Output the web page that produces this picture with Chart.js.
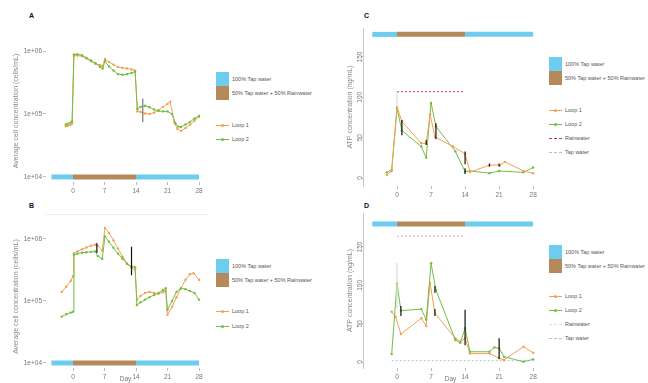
<!DOCTYPE html>
<html>
<head>
<meta charset="utf-8">
<script src="https://cdn.jsdelivr.net/npm/chart.js@4.4.0/dist/chart.umd.min.js"></script>
<style>
  body { margin: 0; width: 648px; height: 383px; overflow: hidden; position: relative; background: #fff;
         font-family: "Liberation Sans", Arial, sans-serif; }
  .box { position: absolute; }
  .tag { position: absolute; font-size: 7px; font-weight: bold; color: #111; }
  .sw { position: absolute; width: 13px; height: 14px; }
  .lt { position: absolute; font-size: 5.5px; line-height: 6px; color: #555; white-space: nowrap; }
  .ln { position: absolute; width: 13px; height: 0; }
  .dot { position: absolute; width: 3px; height: 3px; border-radius: 2px; }
  .sep { position: absolute; left: 45px; top: 214px; width: 163px; height: 1px; background: #f0f0f0; }
</style>
</head>
<body>
<div class="tag" style="left:29px;top:12px">A</div>
<div class="tag" style="left:29px;top:202px">B</div>
<div class="tag" style="left:364px;top:12px">C</div>
<div class="tag" style="left:364px;top:202px">D</div>
<div class="sep"></div>

<div class="box" style="left:0;top:30px;width:210px;height:170px"><canvas id="chartA"></canvas></div>
<div class="box" style="left:0;top:215px;width:210px;height:168px"><canvas id="chartB"></canvas></div>
<div class="box" style="left:320px;top:20px;width:225px;height:180px"><canvas id="chartC"></canvas></div>
<div class="box" style="left:320px;top:205px;width:225px;height:178px"><canvas id="chartD"></canvas></div>

<script>
// ---------- ticks ----------
const dayTicks = [0, 7, 14, 21, 28];
const logTicks = [1e4, 1e5, 1e6];
const logTickLabels = ["1e+04", "1e+05", "1e+06"];
const atpTicks = [0, 50, 100, 150];

// ---------- labels ----------
const phaseLabels = ["100% Tap water", "50% Tap water + 50% Rainwater"];
const loopLabels = ["Loop 1", "Loop 2"];
const refLabels = ["Rainwater", "Tap water"];

// ---------- water phases (days) ----------
const phaseTapBeforeAB = [-4.8, 0];
const phaseTapBeforeCD = [-5.1, 0];
const phaseMix = [0, 14];
const phaseTapAfter = [14, 28];

// ---------- A: cell concentration ----------
const aDays1 = [-1.6, -1.2, -0.6, -0.2, 0.2, 1, 2, 3, 4, 5, 6, 6.6, 7.1, 8, 9, 10, 11, 12, 13, 13.8,
                14.3, 15, 16, 17, 18, 19, 20, 21, 21.6, 22.5, 23.2, 24, 25, 26, 27, 28];
const aLoop1 = [6.4e4, 6.5e4, 6.7e4, 7.0e4, 8.4e5, 8.5e5, 8.3e5, 7.6e5, 6.9e5, 6.3e5, 6.0e5, 5.8e5, 7.5e5,
                6.7e5, 6.1e5, 5.6e5, 5.4e5, 5.3e5, 5.1e5, 4.9e5,
                1.1e5, 1.08e5, 1.02e5, 1.0e5, 1.05e5, 1.15e5, 1.3e5, 1.45e5, 1.57e5, 7.4e4, 5.8e4,
                5.4e4, 6.0e4, 6.8e4, 7.8e4, 9.0e4];
const aDays2 = [-1.6, -1.2, -0.6, -0.2, 0.2, 1, 2, 3, 4, 5, 6, 6.6, 7.1, 8, 9, 10, 11, 12, 13, 13.8,
                14.3, 15, 16, 17, 18, 19, 20, 21, 22, 22.8, 23.4, 24, 25, 26, 27, 28];
const aLoop2 = [6.8e4, 7.0e4, 7.3e4, 7.6e4, 8.8e5, 8.9e5, 8.6e5, 7.8e5, 7.1e5, 6.4e5, 5.6e5, 5.3e5, 6.9e5,
                5.7e5, 4.9e5, 4.3e5, 4.2e5, 4.3e5, 4.5e5, 4.7e5,
                1.2e5, 1.3e5, 1.35e5, 1.28e5, 1.18e5, 1.12e5, 1.1e5, 1.1e5, 1.0e5, 7.0e4, 6.3e4,
                6.2e4, 6.8e4, 7.5e4, 8.5e4, 9.3e4];
const aErr = [[15.5, 7.4e4, 1.77e5]];

// ---------- B: cell concentration ----------
const bDays1 = [-2.5, -1.5, -0.5, 0, 0.2, 1, 2, 3, 4, 4.9, 5.5, 6.5, 7.1, 8, 9, 10, 11, 12, 13, 13.8,
                14.2, 15, 16, 17, 18, 19, 20, 20.6, 21, 22, 23, 24, 25, 26, 26.8, 28];
const bLoop1 = [1.4e5, 1.7e5, 2.1e5, 2.5e5, 5.9e5, 6.3e5, 6.8e5, 7.3e5, 7.8e5, 8.1e5, 7.8e5, 6.5e5, 1.5e6,
                1.25e6, 9.5e5, 7.0e5, 5.2e5, 4.0e5, 3.4e5, 3.2e5,
                1.05e5, 1.2e5, 1.35e5, 1.4e5, 1.35e5, 1.3e5, 1.38e5, 1.45e5, 6.0e4, 8.0e4, 1.15e5,
                1.6e5, 2.2e5, 2.7e5, 2.8e5, 2.2e5];
const bDays2 = [-2.5, -1.5, -0.5, 0, 0.2, 1, 2, 3, 4, 4.9, 5.5, 6.5, 7.1, 8, 9, 10, 11, 12, 13, 13.8,
                14.2, 15, 16, 17, 18, 19, 20, 20.6, 21, 22, 23, 24, 25, 26, 27, 28];
const bLoop2 = [5.6e4, 6.1e4, 6.5e4, 6.7e4, 5.5e5, 5.8e5, 6.0e5, 6.1e5, 6.2e5, 6.3e5, 5.3e5, 4.8e5, 1.1e6,
                9.0e5, 7.2e5, 5.8e5, 4.8e5, 4.0e5, 3.6e5, 3.5e5,
                8.6e4, 9.5e4, 1.05e5, 1.15e5, 1.25e5, 1.35e5, 1.5e5, 1.6e5, 7.2e4, 1.0e5, 1.4e5,
                1.6e5, 1.55e5, 1.45e5, 1.35e5, 1.05e5];
const bErr = [[5.3, 5.95e5, 8.6e5], [13, 2.6e5, 7.5e5]];

// ---------- C: ATP ----------
const cDays1 = [-2.1, -1.1, 0, 1, 5, 6, 6.8, 7.8, 11.5, 14, 15, 19.1, 21.2, 22.2, 26, 28];
const cLoop1 = [3.7, 8.7, 88, 70, 43, 43, 79, 51, 39, 30, 7.5, 16, 16, 20, 8.7, 6];
const cDays2 = [-2.1, -1.1, 0, 1, 5, 6, 7, 8, 12, 14, 15, 19, 21, 26, 28];
const cLoop2 = [7, 10, 86, 59, 39, 25, 93, 64, 33, 8, 8.7, 6, 8.7, 7, 13];
const cRainDays = [0, 14];
const cRain = 107;
const cErr = [[1, 53, 72], [6, 41, 47], [8, 48, 68], [14, 17, 33], [14, 5, 12], [19, 14, 18], [21, 14, 18]];
const cErrFaint = [[0, 88, 107]];

// ---------- D: ATP ----------
const dDays1 = [-1.1, -0.3, 0.8, 5, 6, 6.8, 7.8, 12, 13, 14, 15, 19.1, 21, 22, 26, 28];
const dLoop1 = [65.6, 59, 36.5, 57, 47, 103, 63.5, 31, 26.5, 31, 11, 11, 5, 2.6, 20, 12];
const dDays2 = [-1.1, 0, 0.8, 5, 6, 7, 8, 12, 13, 14, 15, 19, 20, 21, 22, 26, 28];
const dLoop2 = [10.4, 102.6, 67, 69, 55, 128.7, 94, 28.7, 25, 44, 13.4, 13.4, 19, 18, 7, 0.4, 3.5];
const dRainDays = [0, 14];
const dRain = 164;
const dTapDays = [-1.1, 28.3];
const dTap = 1.7;
const dErr = [[0.8, 60, 73], [7.8, 90, 99], [7.8, 60, 69], [14, 22, 68], [21, 4, 31]];
const dErrFaint = [[0, 70, 129]];

// ---------- colours ----------
const ORANGE = "#f2a154";
const GREEN = "#72bf44";
const TAPBLUE = "#6ccdee";
const MIXBROWN = "#b5895a";
const TICK = "#777";

const pts = (days, vals) => days.map((d, i) => ({ x: d, y: vals[i] }));
const flat = (days, v) => days.map(d => ({ x: d, y: v }));

function loop(days, vals, color) {
    return { data: pts(days, vals), borderColor: color, backgroundColor: color, borderWidth: 1,
             pointRadius: 1.2, pointBorderWidth: 0, tension: 0 };
}
function band(days, level, color) {
    return { data: flat(days, level), borderColor: color, borderWidth: 5, pointRadius: 0, borderCapStyle: "butt" };
}
function refLine(days, level, color) {
    return { data: flat(days, level), borderColor: color, borderWidth: 1, borderDash: [2, 2], pointRadius: 0 };
}

// vertical error bars drawn through the chart scales
const errBars = {
    id: "errbars",
    afterDatasetsDraw(chart, args, opts) {
        const { ctx, scales: { x, y } } = chart;
        ctx.save();
        (opts.sets || []).forEach(set => {
            ctx.strokeStyle = set.color;
            ctx.lineWidth = 1.2;
            set.list.forEach(b => {
                const px = x.getPixelForValue(b[0]);
                ctx.beginPath();
                ctx.moveTo(px, y.getPixelForValue(b[1]));
                ctx.lineTo(px, y.getPixelForValue(b[2]));
                ctx.stroke();
            });
        });
        ctx.restore();
    }
};

function panel(id, cfg) {
    const log = cfg.log;
    // ATP panels have their y labels turned 90 degrees
    const yTicks = log
        ? { font: { size: 6.5 }, color: TICK, padding: 1, autoSkip: false, callback: (v, i) => logTickLabels[i] }
        : { font: { size: 6.5 }, color: TICK, padding: -5, autoSkip: false, minRotation: 90, maxRotation: 90,
            crossAlign: "center", callback: v => String(v) };
    return new Chart(document.getElementById(id), {
        type: "line",
        data: { datasets: cfg.datasets },
        options: {
            responsive: true,
            maintainAspectRatio: false,
            animation: false,
            layout: { padding: { top: cfg.padTop, right: cfg.padRight, left: 0, bottom: 0 } },
            plugins: { legend: { display: false }, tooltip: { enabled: false }, errbars: { sets: cfg.err } },
            scales: {
                x: {
                    type: "linear", min: cfg.xmin, max: cfg.xmax,
                    afterFit: s => { s.height = cfg.xh; },
                    afterBuildTicks: s => { s.ticks = dayTicks.map(v => ({ value: v })); },
                    grid: { drawOnChartArea: false, tickLength: 3, color: "#bbb" },
                    border: { display: false },
                    ticks: { font: { size: 6.5 }, color: TICK, padding: 2, autoSkip: false, maxRotation: 0 },
                    title: { display: !!cfg.xTitle, text: cfg.xTitle || "", font: { size: 6.5 }, color: TICK,
                             padding: { top: 0, bottom: 0 } }
                },
                y: {
                    type: log ? "logarithmic" : "linear", min: cfg.ymin, max: cfg.ymax,
                    afterFit: s => { s.width = cfg.yw; },
                    afterBuildTicks: s => { s.ticks = (log ? logTicks : atpTicks).map(v => ({ value: v })); },
                    grid: { drawOnChartArea: false, tickLength: log ? 3 : 2, color: "#bbb" },
                    border: { display: !log, color: "#c8c8c8", width: 1 },
                    ticks: yTicks,
                    title: { display: true, text: cfg.yTitle, font: { size: 7 }, color: "#888",
                             padding: { top: cfg.yTitlePad, bottom: 0 } }
                }
            }
        },
        plugins: [errBars]
    });
}

panel("chartA", {
    log: true, xmin: -6, xmax: 29.33, ymin: 8.3e3, ymax: 1.5e6,
    padTop: 10, padRight: 5, xh: 18, yw: 46, yTitlePad: 12,
    yTitle: "Average cell concentration (cells/mL)",
    err: [{ list: aErr, color: "#777" }],
    datasets: [
        loop(aDays2, aLoop2, GREEN),
        loop(aDays1, aLoop1, ORANGE),
        band(phaseTapBeforeAB, 1e4, TAPBLUE),
        band(phaseMix, 1e4, MIXBROWN),
        band(phaseTapAfter, 1e4, TAPBLUE)
    ]
});

panel("chartB", {
    log: true, xmin: -6, xmax: 29.33, ymin: 8.3e3, ymax: 1.68e6,
    padTop: 10, padRight: 5, xh: 15, yw: 46, yTitlePad: 12, xTitle: "Day",
    yTitle: "Average cell concentration (cells/mL)",
    err: [{ list: bErr, color: "#111" }],
    datasets: [
        loop(bDays2, bLoop2, GREEN),
        loop(bDays1, bLoop1, ORANGE),
        band(phaseTapBeforeAB, 1e4, TAPBLUE),
        band(phaseMix, 1e4, MIXBROWN),
        band(phaseTapAfter, 1e4, TAPBLUE)
    ]
});

panel("chartC", {
    log: false, xmin: -7, xmax: 29, ymin: -9.9, ymax: 185.9,
    padTop: 8, padRight: 7, xh: 14, yw: 43, yTitlePad: 26,
    yTitle: "ATP concentration (ng/mL)",
    err: [{ list: cErrFaint, color: "#ddd" }, { list: cErr, color: "#111" }],
    datasets: [
        loop(cDays1, cLoop1, ORANGE),
        loop(cDays2, cLoop2, GREEN),
        refLine(cRainDays, cRain, "#b8433a"),
        band(phaseTapBeforeCD, 178, TAPBLUE),
        band(phaseMix, 178, MIXBROWN),
        band(phaseTapAfter, 178, TAPBLUE)
    ]
});

panel("chartD", {
    log: false, xmin: -7, xmax: 29, ymin: -7.8, ymax: 194.3,
    padTop: 8, padRight: 7, xh: 15, yw: 43, yTitlePad: 26, xTitle: "Day",
    yTitle: "ATP concentration (ng/mL)",
    err: [{ list: dErrFaint, color: "#ddd" }, { list: dErr, color: "#111" }],
    datasets: [
        loop(dDays2, dLoop2, GREEN),
        loop(dDays1, dLoop1, ORANGE),
        refLine(dRainDays, dRain, "#e8a0a0"),
        refLine(dTapDays, dTap, "#9cc8dc"),
        band(phaseTapBeforeCD, 180, TAPBLUE),
        band(phaseMix, 180, MIXBROWN),
        band(phaseTapAfter, 180, TAPBLUE)
    ]
});

// ---------- html legends ----------
function legend(x, items) {
    items.forEach(it => {
        if (it.kind === "sq") {
            const s = document.createElement("div");
            s.className = "sw";
            s.style.cssText = `left:${x}px;top:${it.y - 7}px;background:${it.color}`;
            document.body.appendChild(s);
        } else {
            const l = document.createElement("div");
            l.className = "ln";
            l.style.cssText = `left:${x}px;top:${it.y}px;border-top:1px ${it.kind === "dash" ? "dashed" : "solid"} ${it.color}`;
            document.body.appendChild(l);
            if (it.kind === "pt") {
                const d = document.createElement("div");
                d.className = "dot";
                d.style.cssText = `left:${x + 5}px;top:${it.y - 1}px;background:${it.color}`;
                document.body.appendChild(d);
            }
        }
        const t = document.createElement("div");
        t.className = "lt";
        t.textContent = it.text;
        t.style.cssText = `left:${x + 16}px;top:${it.y - 3}px`;
        document.body.appendChild(t);
    });
}

legend(216, [
    { kind: "sq", y: 79, color: TAPBLUE, text: phaseLabels[0] },
    { kind: "sq", y: 93, color: MIXBROWN, text: phaseLabels[1] },
    { kind: "pt", y: 125, color: ORANGE, text: loopLabels[0] },
    { kind: "pt", y: 139, color: GREEN, text: loopLabels[1] }
]);
legend(216, [
    { kind: "sq", y: 266, color: TAPBLUE, text: phaseLabels[0] },
    { kind: "sq", y: 280, color: MIXBROWN, text: phaseLabels[1] },
    { kind: "pt", y: 311, color: ORANGE, text: loopLabels[0] },
    { kind: "pt", y: 326, color: GREEN, text: loopLabels[1] }
]);
legend(549, [
    { kind: "sq", y: 64, color: TAPBLUE, text: phaseLabels[0] },
    { kind: "sq", y: 78, color: MIXBROWN, text: phaseLabels[1] },
    { kind: "pt", y: 110, color: ORANGE, text: loopLabels[0] },
    { kind: "pt", y: 124, color: GREEN, text: loopLabels[1] },
    { kind: "dash", y: 138, color: "#b8433a", text: refLabels[0] },
    { kind: "dash", y: 152, color: "#9cc8dc", text: refLabels[1] }
]);
legend(549, [
    { kind: "sq", y: 252, color: TAPBLUE, text: phaseLabels[0] },
    { kind: "sq", y: 266, color: MIXBROWN, text: phaseLabels[1] },
    { kind: "pt", y: 296, color: ORANGE, text: loopLabels[0] },
    { kind: "pt", y: 310, color: GREEN, text: loopLabels[1] },
    { kind: "dash", y: 324, color: "#f3d6d6", text: refLabels[0] },
    { kind: "dash", y: 338, color: "#9cc8dc", text: refLabels[1] }
]);
</script>
</body>
</html>
